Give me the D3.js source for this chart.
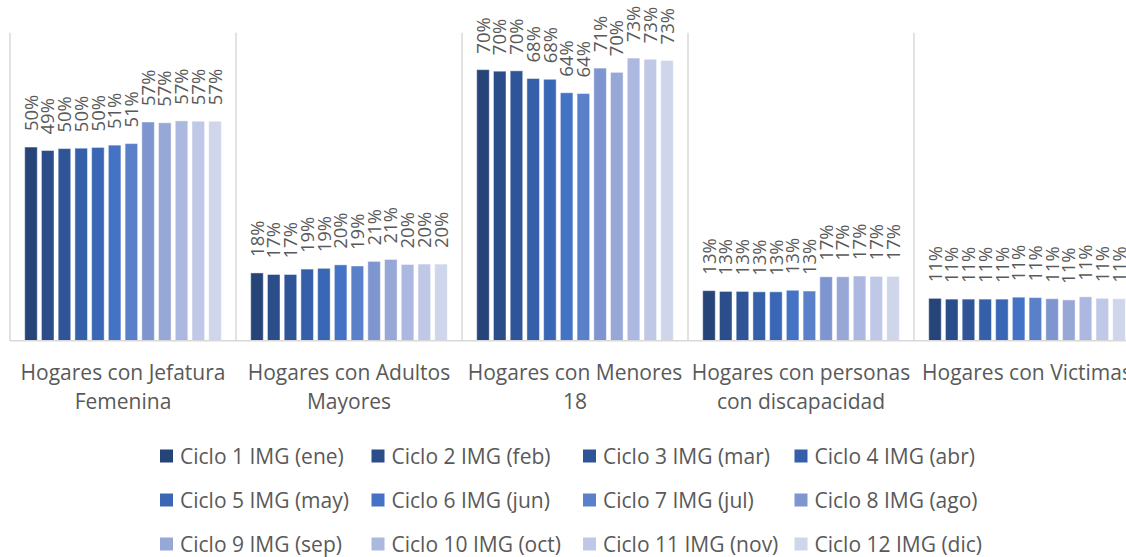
<!DOCTYPE html>
<html>
<head>
<meta charset="utf-8">
<script src="https://cdn.jsdelivr.net/npm/d3@7"></script>
<style>
  html, body { margin: 0; padding: 0; background: #fff; }
  svg { display: block; }
  text { font-family: "Open Sans", Lato, sans-serif; fill: #595959; }
</style>
</head>
<body>
<svg id="chart" width="1126" height="557"></svg>
<script>
// ---- data ----
const categories = [
  "Hogares con Jefatura Femenina",
  "Hogares con Adultos Mayores",
  "Hogares con Menores 18",
  "Hogares con personas con discapacidad",
  "Hogares con Victimas"
];
const seriesNames = [
  "Ciclo 1 IMG (ene)", "Ciclo 2 IMG (feb)", "Ciclo 3 IMG (mar)", "Ciclo 4 IMG (abr)",
  "Ciclo 5 IMG (may)", "Ciclo 6 IMG (jun)", "Ciclo 7 IMG (jul)", "Ciclo 8 IMG (ago)",
  "Ciclo 9 IMG (sep)", "Ciclo 10 IMG (oct)", "Ciclo 11 IMG (nov)", "Ciclo 12 IMG (dic)"
];
// values in percent, one per cycle (ene..dic)
const jefaturaFemenina = [50.3, 49.4, 49.9, 50.0, 50.2, 50.8, 51.2, 56.8, 56.6, 57.1, 57.0, 57.0];
const adultosMayores   = [17.6, 17.2, 17.2, 18.6, 18.8, 19.7, 19.4, 20.6, 21.1, 19.8, 19.9, 19.9];
const menores18        = [70.4, 70.0, 70.1, 68.1, 67.9, 64.4, 64.2, 70.8, 69.7, 73.4, 73.1, 72.8];
const discapacidad     = [13.0, 12.8, 12.8, 12.7, 12.7, 13.1, 12.9, 16.6, 16.6, 16.8, 16.7, 16.7];
const victimas         = [11.0, 10.8, 10.8, 10.8, 10.8, 11.3, 11.2, 10.9, 10.6, 11.4, 11.0, 10.9];
const valuesByCategory = [jefaturaFemenina, adultosMayores, menores18, discapacidad, victimas];

const palette = ["#264478", "#2b4d89", "#2f5598", "#355fa8", "#3a67b5", "#4472c4",
                 "#5b80ca", "#7f95cf", "#97a7d6", "#acb8df", "#bfc8e6", "#cfd5eb"];

// ---- layout ----
const svg = d3.select("#chart");
const plotLeft = 10, plotRight = 1140, plotTop = 32.7, plotBottom = 340.7;
const labelFont = "18.5px";
const textFont = "21px";

const x0 = d3.scaleBand().domain(categories).range([plotLeft, plotRight]).padding(0);
const x1 = d3.scaleBand().domain(seriesNames).range([0, x0.bandwidth()])
  .paddingInner(0.25).paddingOuter(0.88);
const y = d3.scaleLinear().domain([0, 80]).range([plotBottom, plotTop]);
const color = d3.scaleOrdinal().domain(seriesNames).range(palette);
const fmt = v => d3.format(".0%")(v / 100);

// vertical separators between categories
const seps = categories.map(c => x0(c)).concat([x0.range()[1]]);
svg.append("g").selectAll("line").data(seps).join("line")
  .attr("x1", d => d).attr("x2", d => d)
  .attr("y1", plotTop).attr("y2", plotBottom)
  .attr("stroke", "#d9d9d9").attr("stroke-width", 1.5);

// bars
const groups = svg.append("g").selectAll("g").data(categories).join("g")
  .attr("transform", c => `translate(${x0(c)},0)`);

groups.selectAll("rect")
  .data((c, i) => valuesByCategory[i].map((v, j) => ({ s: seriesNames[j], v })))
  .join("rect")
  .attr("x", d => x1(d.s))
  .attr("width", x1.bandwidth())
  .attr("y", d => y(d.v))
  .attr("height", d => y(0) - y(d.v))
  .attr("fill", d => color(d.s))
  .attr("stroke", "#ffffff").attr("stroke-opacity", 0.45).attr("stroke-width", 1);

// data labels
groups.selectAll("text")
  .data((c, i) => valuesByCategory[i].map((v, j) => ({ s: seriesNames[j], v })))
  .join("text")
  .attr("transform", d => `translate(${x1(d.s) + x1.bandwidth() / 2},${y(d.v) - 16}) rotate(-90)`)
  .attr("text-anchor", "start")
  .attr("dy", "0.36em")
  .style("font-size", labelFont)
  .text(d => fmt(d.v));

// baseline axis
svg.append("line")
  .attr("x1", plotLeft).attr("x2", plotRight)
  .attr("y1", plotBottom).attr("y2", plotBottom)
  .attr("stroke", "#d9d9d9").attr("stroke-width", 1.5);

// category labels (wrapped to the band width)
const catLabels = svg.append("g").selectAll("text").data(categories).join("text")
  .attr("text-anchor", "middle")
  .style("font-size", textFont);
catLabels.each(function (d) {
  const t = d3.select(this);
  const cx = x0(d) + x0.bandwidth() / 2;
  const maxW = x0.bandwidth() - 2;
  const words = d.split(" ");
  const lines = [];
  let cur = [];
  const probe = t.append("tspan");
  words.forEach(w => {
    cur.push(w);
    probe.text(cur.join(" "));
    if (probe.node().getComputedTextLength() > maxW && cur.length > 1) {
      cur.pop();
      lines.push(cur.join(" "));
      cur = [w];
    }
  });
  lines.push(cur.join(" "));
  probe.remove();
  lines.forEach((ln, k) => {
    t.append("tspan").attr("x", cx).attr("y", plotBottom + 32 + k * 28.5)
      .attr("dy", "0.36em").text(ln);
  });
});

// legend
const legendRows = [456, 500, 544];
const legend = svg.append("g").selectAll("g").data(seriesNames).join("g")
  .attr("transform", (s, i) => `translate(${160 + (i % 4) * 211.5},${legendRows[Math.floor(i / 4)]})`);
legend.append("rect")
  .attr("x", 0).attr("y", -6.5).attr("width", 13).attr("height", 13)
  .attr("fill", s => color(s));
legend.append("text")
  .attr("x", 20).attr("dy", "0.36em")
  .style("font-size", textFont)
  .text(s => s);
</script>
</body>
</html>
